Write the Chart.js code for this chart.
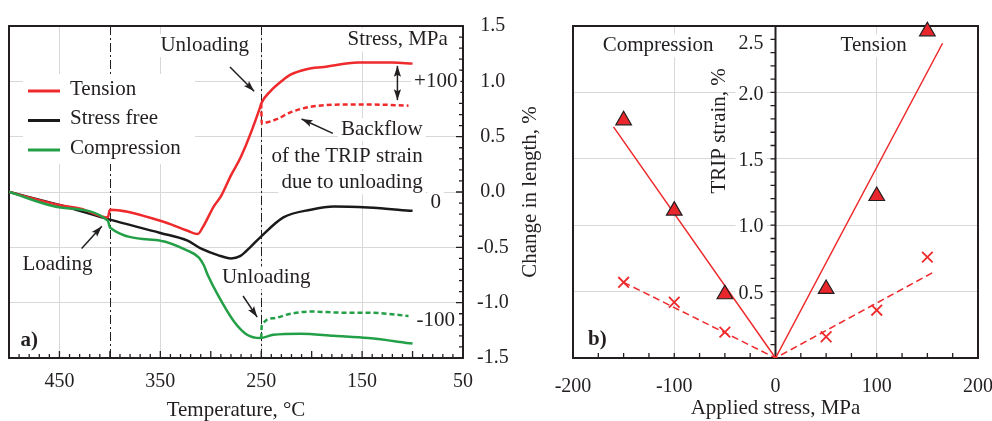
<!DOCTYPE html>
<html>
<head>
<meta charset="utf-8">
<title>TRIP strain</title>
<script src="https://cdn.jsdelivr.net/npm/chart.js@4.4.1/dist/chart.umd.min.js"></script>
<style>
  html, body { margin: 0; padding: 0; background: #fff; }
  #wrap { position: relative; width: 992px; height: 421px; overflow: hidden; }
  #wrap canvas { position: absolute; top: 0; }
  #chartA { left: 0; }
  #chartB { left: 540px; }
</style>
</head>
<body>
<div id="wrap">
  <canvas id="chartA" width="560" height="421"></canvas>
  <canvas id="chartB" width="452" height="421"></canvas>
</div>
<script>
const FONT = '"Liberation Serif", "Times New Roman", serif';
const INK = '#231f20';
const RED = '#ee2a2c';
const GREEN = '#23a047';
const BLACK = '#1a1a1a';
const GRID = '#d8d8d8';

// (a) dilatometry: temperature (°C) and change in length (%)
const tensionTemp = [500, 449, 429, 402, 400, 350, 323, 313, 308, 297, 290, 280, 270, 251, 250, 241, 230, 221, 205, 188, 154, 120, 100];
const tensionLen  = [0.0, -0.12, -0.15, -0.23, -0.16, -0.26, -0.35, -0.38, -0.32, -0.13, -0.04, 0.15, 0.32, 0.77, 0.80, 0.91, 1.00, 1.06, 1.11, 1.13, 1.17, 1.17, 1.16];
const tensionUnloadTemp = [250, 249.5, 244, 234, 221, 201, 171, 138, 104];
const tensionUnloadLen  = [0.80, 0.62, 0.63, 0.66, 0.72, 0.77, 0.79, 0.79, 0.78];
const freeTemp = [500, 449, 400, 350, 323, 310, 293, 280, 271, 261, 251, 228, 201, 178, 144, 100];
const freeLen  = [0.0, -0.12, -0.25, -0.37, -0.44, -0.51, -0.57, -0.60, -0.58, -0.50, -0.41, -0.23, -0.16, -0.13, -0.14, -0.17];
const compTemp = [500, 449, 402, 400, 350, 323, 312, 307, 303, 293, 277, 264, 251, 238, 211, 178, 144, 100];
const compLen  = [0.0, -0.14, -0.26, -0.32, -0.44, -0.53, -0.59, -0.66, -0.75, -0.93, -1.17, -1.29, -1.32, -1.29, -1.28, -1.30, -1.32, -1.37];
const compUnloadTemp = [250, 249.5, 238, 221, 201, 170, 144, 104];
const compUnloadLen  = [-1.32, -1.21, -1.14, -1.10, -1.08, -1.09, -1.09, -1.12];
const loadTemps = [400, 250]; // loading / unloading temperatures

// (b) TRIP strain (%) against applied stress (MPa)
const stressLevels = [-150, -100, -50, 50, 100, 150];
const tripTotal    = [1.79, 1.11, 0.48, 0.52, 1.22, 2.46];
const tripBackflow = [0.57, 0.42, 0.195, 0.16, 0.36, 0.76];
const fitTotalStress = [-160, 0, 165];
const fitTotal       = [1.74, 0, 2.37];
const fitBackStress  = [-150, 0, 157];
const fitBack        = [0.57, 0, 0.65];

const legendA = [['Tension', RED], ['Stress free', BLACK], ['Compression', GREEN]];

function pts(xs, ys) {
    return xs.map((x, i) => ({ x: x, y: ys[i] }));
}

function isMult(v, step) {
    const r = v / step;
    return Math.abs(r - Math.round(r)) < 1e-6;
}

function textBox(ctx, text, x, y, align, bold) {
    ctx.font = (bold ? 'bold ' : '') + '21px ' + FONT;
    const w = ctx.measureText(text).width;
    const x0 = align === 'right' ? x - w : (align === 'left' ? x : x - w / 2);
    ctx.fillStyle = '#fff';
    ctx.fillRect(x0 - 3, y - 13, w + 6, 23);
    ctx.fillStyle = INK;
    ctx.textAlign = align || 'center';
    ctx.textBaseline = 'middle';
    ctx.fillText(text, x, y - 2);
}

function arrowHead(ctx, x1, y1, x2, y2) {
    const ang = Math.atan2(y2 - y1, x2 - x1);
    const L = 11, W = 3.6;
    ctx.beginPath();
    ctx.moveTo(x2, y2);
    ctx.lineTo(x2 - L * Math.cos(ang) + W * Math.sin(ang), y2 - L * Math.sin(ang) - W * Math.cos(ang));
    ctx.lineTo(x2 - L * 0.8 * Math.cos(ang), y2 - L * 0.8 * Math.sin(ang));
    ctx.lineTo(x2 - L * Math.cos(ang) - W * Math.sin(ang), y2 - L * Math.sin(ang) + W * Math.cos(ang));
    ctx.closePath();
    ctx.fill();
}

function arrow(ctx, x1, y1, x2, y2, both) {
    ctx.beginPath();
    ctx.moveTo(x1, y1);
    ctx.lineTo(x2, y2);
    ctx.stroke();
    arrowHead(ctx, x1, y1, x2, y2);
    if (both) arrowHead(ctx, x2, y2, x1, y1);
}

// inward tick marks + black frame
const axisFrame = {
    id: 'axisFrame',
    beforeDatasetsDraw(chart, args, o) {
        const { ctx, chartArea: a, scales: { x, y } } = chart;
        ctx.save();
        ctx.strokeStyle = INK;
        ctx.lineWidth = 1.3;
        ctx.beginPath();
        x.ticks.forEach(t => {
            const px = x.getPixelForValue(t.value);
            const len = isMult(t.value, o.xMajor) ? o.majorLen : o.minorLen;
            ctx.moveTo(px, a.bottom);
            ctx.lineTo(px, a.bottom - len);
        });
        const ax = o.yAt == null ? a.right : x.getPixelForValue(o.yAt);
        y.ticks.forEach(t => {
            const py = y.getPixelForValue(t.value);
            const len = isMult(t.value, o.yMajor) ? o.majorLen : o.minorLen;
            ctx.moveTo(ax, py);
            ctx.lineTo(ax - len, py);
        });
        ctx.stroke();
        ctx.lineWidth = 2;
        ctx.strokeRect(a.left, a.top, a.right - a.left, a.bottom - a.top);
        if (o.yAt != null) {
            // axis through x = yAt, with its labels on a white backdrop
            ctx.beginPath();
            ctx.moveTo(ax, a.top);
            ctx.lineTo(ax, a.bottom);
            ctx.stroke();
            ctx.font = '20px ' + FONT;
            ctx.textAlign = 'right';
            ctx.textBaseline = 'middle';
            y.ticks.forEach(t => {
                const lab = o.yLabel(t.value);
                if (!lab) return;
                const py = y.getPixelForValue(t.value) + (lab === '2.5' ? 4 : 2);
                const w = ctx.measureText(lab).width;
                ctx.fillStyle = '#fff';
                ctx.fillRect(ax - 12 - w - 3, py - 10, w + 6, 20);
                ctx.fillStyle = INK;
                ctx.fillText(lab, ax - 12, py);
            });
        }
        ctx.restore();
    }
};

// notes, arrows and legend of panel a
const notesA = [
    { text: 'Unloading', t: 306, v: 1.31 },
    { text: 'Stress, MPa', t: 65, v: 1.36, align: 'right' },
    { text: '+100', t: 77, v: 0.98 },
    { text: 'Backflow', t: 90, v: 0.55, align: 'right' },
    { text: 'of the TRIP strain', t: 90, v: 0.30, align: 'right' },
    { text: 'due to unloading', t: 90, v: 0.07, align: 'right' },
    { text: '0', t: 77, v: -0.11 },
    { text: '-100', t: 77, v: -1.18 },
    { text: 'Loading', t: 452, v: -0.67 },
    { text: 'Unloading', t: 245, v: -0.79 },
    { text: 'a)', t: 480, v: -1.36, bold: true }
];
const arrowsA = [
    { from: [281, 1.13], to: [257, 0.91] },
    { from: [179, 0.53], to: [210, 0.66] },
    { from: [428, -0.51], to: [408, -0.31] },
    { from: [268, -0.94], to: [254, -1.13] },
    { from: [115, 0.83], to: [115, 1.14], both: true }
];

const notesPluginA = {
    id: 'notesA',
    beforeDatasetsDraw(chart) {
        const { ctx, chartArea: a, scales: { x, y } } = chart;
        ctx.save();
        // loading / unloading dash-dot lines
        ctx.strokeStyle = INK;
        ctx.lineWidth = 1;
        ctx.setLineDash([9, 3, 2, 3]);
        loadTemps.forEach(t => {
            const px = Math.round(x.getPixelForValue(t)) + 0.5;
            ctx.beginPath();
            ctx.moveTo(px, a.top);
            ctx.lineTo(px, a.bottom);
            ctx.stroke();
        });
        ctx.setLineDash([]);
        notesA.forEach(n => textBox(ctx, n.text, x.getPixelForValue(n.t), y.getPixelForValue(n.v), n.align, n.bold));
        // legend
        ctx.fillStyle = '#fff';
        ctx.fillRect(a.left + 14, a.top + 48, 172, 90);
        legendA.forEach((item, i) => {
            const ly = a.top + 65 + i * 29.5;
            ctx.strokeStyle = item[1];
            ctx.lineWidth = 3;
            ctx.beginPath();
            ctx.moveTo(a.left + 19, ly);
            ctx.lineTo(a.left + 51, ly);
            ctx.stroke();
            ctx.font = '21px ' + FONT;
            ctx.fillStyle = INK;
            ctx.textAlign = 'left';
            ctx.textBaseline = 'middle';
            ctx.fillText(item[0], a.left + 61, ly - 2);
        });
        ctx.restore();
    },
    afterDatasetsDraw(chart) {
        const { ctx, chartArea: a, scales: { x, y } } = chart;
        ctx.save();
        ctx.strokeStyle = INK;
        ctx.fillStyle = INK;
        ctx.lineWidth = 1.5;
        arrowsA.forEach(r => arrow(ctx,
            x.getPixelForValue(r.from[0]), y.getPixelForValue(r.from[1]),
            x.getPixelForValue(r.to[0]), y.getPixelForValue(r.to[1]), r.both));
        // right axis title, read bottom to top
        ctx.translate(a.right + 67, (a.top + a.bottom) / 2);
        ctx.rotate(-Math.PI / 2);
        ctx.font = '21px ' + FONT;
        ctx.textAlign = 'center';
        ctx.textBaseline = 'middle';
        ctx.fillText('Change in length, %', 0, 0);
        ctx.restore();
    }
};

const notesB = [
    { text: 'Compression', s: -116, t: 2.34 },
    { text: 'Tension', s: 97, t: 2.34 },
    { text: 'b)', s: -176, t: 0.12, bold: true }
];

const notesPluginB = {
    id: 'notesB',
    beforeDatasetsDraw(chart) {
        const { ctx, scales: { x, y } } = chart;
        ctx.save();
        notesB.forEach(n => textBox(ctx, n.text, x.getPixelForValue(n.s), y.getPixelForValue(n.t), 'center', n.bold));
        ctx.translate(x.getPixelForValue(0) - 56, y.getPixelForValue(1.71));
        ctx.rotate(-Math.PI / 2);
        ctx.font = '21px ' + FONT;
        ctx.fillStyle = INK;
        ctx.textAlign = 'center';
        ctx.textBaseline = 'middle';
        ctx.fillText('TRIP strain, %', 0, 0);
        ctx.restore();
    }
};

Chart.defaults.font.family = FONT;
Chart.defaults.font.size = 20;
Chart.defaults.color = INK;

function curve(label, data, color, dashed) {
    return {
        label: label,
        data: data,
        borderColor: color,
        backgroundColor: color,
        borderWidth: 2.5,
        borderDash: dashed ? [5, 3] : [],
        pointRadius: 0,
        cubicInterpolationMode: 'monotone',
        fill: false
    };
}

new Chart(document.getElementById('chartA'), {
    type: 'line',
    data: {
        datasets: [
            curve('Compression', pts(compTemp, compLen), GREEN, false),
            curve('Compression, unloaded', pts(compUnloadTemp, compUnloadLen), GREEN, true),
            curve('Tension', pts(tensionTemp, tensionLen), RED, false),
            curve('Tension, unloaded', pts(tensionUnloadTemp, tensionUnloadLen), RED, true),
            curve('Stress free', pts(freeTemp, freeLen), BLACK, false)
        ]
    },
    options: {
        responsive: false,
        animation: false,
        events: [],
        layout: { padding: { left: 9, top: 22, right: 0, bottom: 0 } },
        plugins: {
            legend: { display: false },
            tooltip: { enabled: false },
            axisFrame: { xMajor: 50, yMajor: 0.5, majorLen: 7, minorLen: 4 }
        },
        scales: {
            x: {
                type: 'linear',
                reverse: true,
                min: 50,
                max: 500,
                afterFit: s => { s.height = 63; s.paddingLeft = 0; s.paddingRight = 0; },
                ticks: {
                    stepSize: 10,
                    autoSkip: false,
                    maxRotation: 0,
                    padding: 12,
                    callback: v => (isMult(v - 50, 100) ? String(v) : '')
                },
                grid: {
                    drawTicks: false,
                    color: c => (c.tick && isMult(c.tick.value - 50, 100) && c.tick.value > 60 ? GRID : 'rgba(0,0,0,0)')
                },
                border: { display: false },
                title: {
                    display: true,
                    text: 'Temperature, °C',
                    font: { size: 21, lineHeight: 1 },
                    padding: { top: 0, bottom: 0 }
                }
            },
            y: {
                position: 'right',
                min: -1.5,
                max: 1.5,
                afterFit: s => { s.width = 97; },
                ticks: {
                    stepSize: 0.1,
                    autoSkip: false,
                    padding: 14,
                    crossAlign: 'center',
                    callback: v => (isMult(v, 0.5) ? v.toFixed(1) : '')
                },
                grid: {
                    drawTicks: false,
                    color: c => (c.tick && isMult(c.tick.value, 0.5) && Math.abs(c.tick.value) < 1.4 ? GRID : 'rgba(0,0,0,0)')
                },
                border: { display: false }
            }
        }
    },
    plugins: [axisFrame, notesPluginA]
});

new Chart(document.getElementById('chartB'), {
    type: 'scatter',
    data: {
        datasets: [
            {
                label: 'TRIP strain',
                data: pts(stressLevels, tripTotal),
                pointStyle: 'triangle',
                pointRadius: 9,
                pointBackgroundColor: '#e8262b',
                pointBorderColor: INK,
                pointBorderWidth: 1.2,
                clip: false
            },
            {
                label: 'Backflow',
                data: pts(stressLevels, tripBackflow),
                pointStyle: 'crossRot',
                pointRadius: 7.5,
                pointBorderColor: RED,
                pointBorderWidth: 1.8
            },
            {
                label: 'Fit, TRIP strain',
                data: pts(fitTotalStress, fitTotal),
                showLine: true,
                borderColor: RED,
                borderWidth: 1.5,
                pointRadius: 0
            },
            {
                label: 'Fit, backflow',
                data: pts(fitBackStress, fitBack),
                showLine: true,
                borderColor: RED,
                borderWidth: 1.5,
                borderDash: [7, 4],
                pointRadius: 0
            }
        ]
    },
    options: {
        responsive: false,
        animation: false,
        events: [],
        layout: { padding: { left: 33, top: 26, right: 14, bottom: 0 } },
        plugins: {
            legend: { display: false },
            tooltip: { enabled: false },
            axisFrame: {
                xMajor: 100, yMajor: 100, majorLen: 5, minorLen: 5, yAt: 0,
                // the top label sits one minor tick below the frame
                yLabel: v => {
                    if (Math.abs(v - 2.4) < 1e-6) return '2.5';
                    return isMult(v, 0.5) && v > 0.01 && v < 2.45 ? v.toFixed(1) : '';
                }
            }
        },
        scales: {
            x: {
                type: 'linear',
                min: -200,
                max: 200,
                afterFit: s => { s.height = 63; s.paddingLeft = 0; s.paddingRight = 0; },
                ticks: {
                    stepSize: 25,
                    autoSkip: false,
                    maxRotation: 0,
                    padding: 17,
                    callback: v => (isMult(v, 100) ? String(v) : '')
                },
                grid: {
                    drawTicks: false,
                    color: c => (c.tick && Math.abs(c.tick.value) === 100 ? GRID : 'rgba(0,0,0,0)')
                },
                border: { display: false },
                title: {
                    display: true,
                    text: 'Applied stress, MPa',
                    font: { size: 21, lineHeight: 1 },
                    padding: { top: 0, bottom: 2 }
                }
            },
            y: {
                position: { x: 0 },
                min: 0,
                max: 2.5,
                ticks: { stepSize: 0.1, display: false },
                grid: {
                    drawTicks: false,
                    color: c => (c.tick && isMult(c.tick.value, 0.5) && c.tick.value > 0.01 && c.tick.value < 2.45 ? GRID : 'rgba(0,0,0,0)')
                },
                border: { display: false }
            }
        }
    },
    plugins: [axisFrame, notesPluginB]
});
</script>
</body>
</html>
